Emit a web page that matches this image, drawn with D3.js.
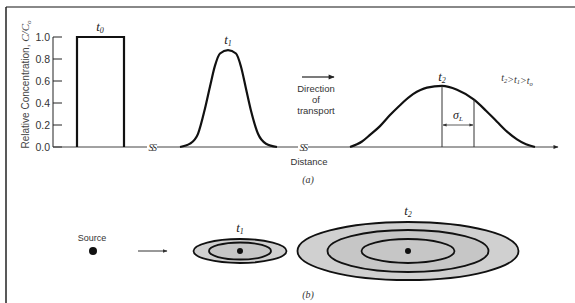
<!DOCTYPE html>
<html>
<head>
<meta charset="utf-8">
<script src="https://cdn.jsdelivr.net/npm/d3@7"></script>
<style>
  body { margin: 0; background: #fff; }
  svg { display: block; }
  .sans { font-family: "Liberation Sans", Arial, sans-serif; }
  .ital { font-family: "Liberation Serif", "Times New Roman", serif; font-style: italic; }
</style>
</head>
<body>
<div id="chart"></div>
<script>
// y axis ticks
const yTicks = [0, 0.2, 0.4, 0.6, 0.8, 1.0];

// concentration profiles, [distance, C/C0]
const pulseT0 = [[24, 0], [24, 1], [71, 1], [71, 0]];
const curveT1 = [[127, 0], [137, 0.03], [145, 0.12], [152, 0.35], [157, 0.55], [162, 0.74],
                 [167, 0.85], [175, 0.88], [183, 0.85], [188, 0.73], [193, 0.53], [198, 0.33],
                 [205, 0.12], [213, 0.03], [224, 0]];
const curveT2 = [[297, 0], [309, 0.05], [317, 0.11], [327, 0.19], [337, 0.29], [347, 0.38],
                 [360, 0.48], [374, 0.54], [389, 0.555], [404, 0.52], [421, 0.43], [433, 0.33],
                 [444, 0.23], [454, 0.14], [464, 0.07], [473, 0.025], [482, 0]];

// sigma marker: peak of t2 and one sigma further
const sigmaPos = [389, 421];
const sigmaVal = [0.555, 0.43];

// breaks on the distance axis
const breaks = [99, 250];

// plan view (b): plume centres and contour half-widths (along, across)
const plumeCentres = [40, 187, 355];
const plumeT1 = [[46.5, 12], [31, 8.5]];
const plumeT2 = [[110.5, 29], [80.5, 21], [46.5, 12]];

const W = 575, H = 303;
const svg = d3.select("#chart").append("svg")
    .attr("width", W).attr("height", H);

svg.append("rect").attr("width", W).attr("height", H).attr("fill", "#fff");

// frame: grey top rule, dark left rule
svg.append("line").attr("x1", 6).attr("x2", W).attr("y1", 7).attr("y2", 7)
    .attr("stroke", "#888").attr("stroke-width", 2);
svg.append("line").attr("x1", 6).attr("x2", 6).attr("y1", 7).attr("y2", H)
    .attr("stroke", "#222").attr("stroke-width", 1.5);

const x = d3.scaleLinear().domain([0, 505]).range([53, 558]);
const y = d3.scaleLinear().domain([0, 1]).range([147, 37]);

// y axis with inward ticks
const yAxis = svg.append("g").attr("transform", `translate(${x(0)},0)`);
yAxis.append("line").attr("y1", y(1)).attr("y2", y(0)).attr("stroke", "#222");
yAxis.selectAll("line.tick").data(yTicks).join("line")
    .attr("class", "tick")
    .attr("x1", 0).attr("x2", 9)
    .attr("y1", d => y(d)).attr("y2", d => y(d))
    .attr("stroke", "#222");
yAxis.selectAll("text").data(yTicks).join("text")
    .attr("class", "sans")
    .attr("x", -3).attr("y", d => y(d)).attr("dy", "0.35em")
    .attr("text-anchor", "end")
    .attr("font-size", 10.5).attr("fill", "#333")
    .text(d => d.toFixed(1));

// y title
const yt = svg.append("text").attr("class", "sans")
    .attr("transform", `translate(29,${(17 + 152) / 2}) rotate(-90)`)
    .attr("text-anchor", "middle").attr("font-size", 10).attr("fill", "#444");
yt.append("tspan").text("Relative Concentration, ");
yt.append("tspan").attr("class", "ital").attr("font-size", 11).text("C/C");
yt.append("tspan").attr("class", "ital").attr("font-size", 7).attr("dy", 2).text("o");

// arrow heads
const defs = svg.append("defs");
defs.append("marker")
    .attr("id", "arr").attr("viewBox", "0 0 10 10").attr("refX", 9).attr("refY", 5)
    .attr("markerWidth", 6).attr("markerHeight", 5).attr("orient", "auto")
  .append("path").attr("d", "M0,1 L10,5 L0,9 Z").attr("fill", "#222");
defs.append("marker")
    .attr("id", "arr2").attr("viewBox", "0 0 10 10").attr("refX", 9).attr("refY", 5)
    .attr("markerWidth", 5).attr("markerHeight", 5).attr("orient", "auto-start-reverse")
  .append("path").attr("d", "M0,1 L10,5 L0,9 Z").attr("fill", "#333");

// distance axis
svg.append("line")
    .attr("x1", x(0)).attr("x2", x(505)).attr("y1", y(0)).attr("y2", y(0))
    .attr("stroke", "#444").attr("stroke-width", 1)
    .attr("marker-end", "url(#arr)");

// breaks
breaks.forEach(b => {
  svg.append("rect").attr("x", x(b) - 5).attr("y", y(0) - 5).attr("width", 10).attr("height", 10)
      .attr("fill", "#fff");
  svg.append("text").attr("class", "ital")
      .attr("x", x(b)).attr("y", y(0)).attr("dy", "0.36em")
      .attr("text-anchor", "middle").attr("font-size", 10).attr("fill", "#333")
      .attr("letter-spacing", -1.5)
      .text("SS");
});

// profiles
const line = d3.line().x(d => x(d[0])).y(d => y(d[1]));
svg.append("path").datum(pulseT0).attr("d", line)
    .attr("fill", "none").attr("stroke", "#111").attr("stroke-width", 2.2);

const smooth = d3.line().x(d => x(d[0])).y(d => y(d[1])).curve(d3.curveMonotoneX);
[curveT1, curveT2].forEach(c => {
  svg.append("path").datum(c).attr("d", smooth)
      .attr("fill", "none").attr("stroke", "#111").attr("stroke-width", 2.2);
});

// sigma lines
sigmaPos.forEach((p, i) => {
  svg.append("line").attr("x1", x(p)).attr("x2", x(p))
      .attr("y1", y(0)).attr("y2", y(sigmaVal[i]))
      .attr("stroke", "#333").attr("stroke-width", 1);
});
const sy = y(0.2);
svg.append("line").attr("x1", x(sigmaPos[0]) + 1).attr("x2", x(sigmaPos[1]) - 1)
    .attr("y1", sy).attr("y2", sy).attr("stroke", "#333").attr("stroke-width", 0.8)
    .attr("marker-start", "url(#arr2)").attr("marker-end", "url(#arr2)");
const sl = svg.append("text").attr("class", "ital")
    .attr("x", (x(sigmaPos[0]) + x(sigmaPos[1])) / 2).attr("y", sy - 6)
    .attr("text-anchor", "middle").attr("font-size", 12).attr("fill", "#222");
sl.append("tspan").text("σ");
sl.append("tspan").attr("font-size", 7).attr("dy", 2).text("L");

// time labels
function tLabel(px, py, sub, size) {
  const t = svg.append("text").attr("class", "ital")
      .attr("x", px).attr("y", py).attr("text-anchor", "middle")
      .attr("font-size", size || 13).attr("fill", "#222");
  t.append("tspan").text("t");
  t.append("tspan").attr("font-size", 8).attr("dy", 2).text(sub);
}
tLabel(x(47), 31, "0");
tLabel(x(175), 44, "1");
tLabel(x(389), 81, "2");

// t2 > t1 > t0
const ord = svg.append("text").attr("class", "ital")
    .attr("x", 517).attr("y", 81).attr("text-anchor", "middle")
    .attr("font-size", 10).attr("fill", "#333");
[["t", "2"], [">t", "1"], [">t", "o"]].forEach(p => {
  ord.append("tspan").attr("dy", 0).text(p[0]);
  ord.append("tspan").attr("font-size", 6.5).attr("dy", 1.5).text(p[1]);
  ord.append("tspan").attr("dy", -1.5).text("");
});

// direction of transport
svg.append("line").attr("x1", 302).attr("x2", 334).attr("y1", 77).attr("y2", 77)
    .attr("stroke", "#222").attr("stroke-width", 1.2).attr("marker-end", "url(#arr)");
["Direction", "of", "transport"].forEach((s, i) => {
  svg.append("text").attr("class", "sans")
      .attr("x", 316).attr("y", 92 + i * 11).attr("text-anchor", "middle")
      .attr("font-size", 9.5).attr("fill", "#333").text(s);
});

svg.append("text").attr("class", "sans")
    .attr("x", 309).attr("y", 165).attr("text-anchor", "middle")
    .attr("font-size", 9.5).attr("fill", "#333").text("Distance");
svg.append("text").attr("class", "ital")
    .attr("x", 308).attr("y", 183).attr("text-anchor", "middle")
    .attr("font-size", 10).attr("fill", "#333").text("(a)");

// ---- plan view (b)
const lat = d3.scaleLinear().domain([-40, 40]).range([211, 291]);
const cy = lat(0);

function plume(cx, rings) {
  const g = svg.append("g");
  g.selectAll("ellipse").data(rings).join("ellipse")
      .attr("cx", x(cx)).attr("cy", cy)
      .attr("rx", d => x(cx + d[0]) - x(cx))
      .attr("ry", d => lat(d[1]) - lat(0))
      .attr("fill", (d, i) => i === 0 ? "#d0d0d0" : "#c6c6c6")
      .attr("stroke", "#111").attr("stroke-width", 1.8);
  g.append("circle").attr("cx", x(cx)).attr("cy", cy).attr("r", 3).attr("fill", "#111");
}

// source
svg.append("circle").attr("cx", x(plumeCentres[0])).attr("cy", cy).attr("r", 4).attr("fill", "#111");
svg.append("text").attr("class", "sans")
    .attr("x", x(plumeCentres[0]) - 1).attr("y", 241).attr("text-anchor", "middle")
    .attr("font-size", 9).attr("fill", "#333").text("Source");
svg.append("line").attr("x1", 138).attr("x2", 167).attr("y1", cy).attr("y2", cy)
    .attr("stroke", "#333").attr("stroke-width", 1).attr("marker-end", "url(#arr2)");

plume(plumeCentres[1], plumeT1);
plume(plumeCentres[2], plumeT2);
tLabel(x(plumeCentres[1]), 232, "1");
tLabel(x(plumeCentres[2]), 215, "2");

svg.append("text").attr("class", "ital")
    .attr("x", 308).attr("y", 298).attr("text-anchor", "middle")
    .attr("font-size", 10).attr("fill", "#333").text("(b)");
</script>
</body>
</html>
